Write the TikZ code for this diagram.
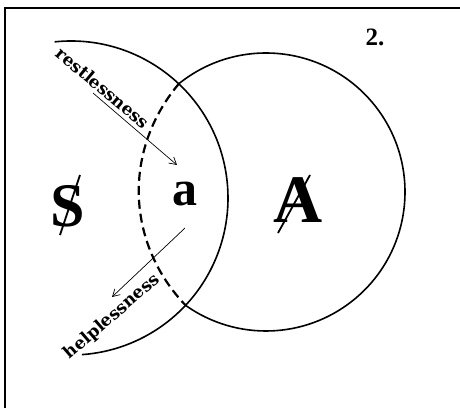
\documentclass[tikz,border=0pt]{standalone}
\usepackage{fontspec}
\setmainfont{DejaVu Serif}
\newfontfamily\symfont{Liberation Serif}
\usepackage{tikz}
\usetikzlibrary{arrows.meta, calc}

\begin{document}
\begin{tikzpicture}[x=1pt, y=1pt,
    outline/.style={line width=1.6pt},
    hidden/.style={line width=2.2pt, dash pattern=on 9pt off 5pt},
    pointer/.style={line width=0.7pt, -{Straight Barb[length=7pt, width=8pt]}},
    word/.style={font=\fontsize{17}{17}\selectfont\bfseries, inner sep=0pt},
    sym/.style={inner sep=0pt, font=\symfont\bfseries\fontsize{#1}{#1}\selectfont},
    strike/.style={line width=1.8pt}]
    \useasboundingbox (0,0) rectangle (460,408);
    % frame
    \draw[line width=2.6pt] (5,0) -- (5,400) -- (460,400);
    % centres of the two outlines and where they cross
    \coordinate (lc) at (71,210);
    \coordinate (rc) at (266,216);
    \coordinate (up) at ($(rc)+(128.7:139)$);
    \coordinate (down) at ($(rc)+(-125.3:139)$);
    % left arc
    \draw[outline] ($(lc)+(96:157)$) arc[start angle=96, end angle=-86, radius=157];
    % right circle, solid part and dashed part
    \draw[outline] (up) arc[start angle=128.7, end angle=-125.3, radius=139];
    \draw[hidden] (up) to[bend right=42] (down);
    % letters
    \node[sym=62] (subj) at (68,202) {S};
    \draw[strike] ($(subj)+(12,31)$) -- ($(subj)+(-8,-29)$);
    \node[sym=50] (obj) at (185,214) {a};
    \node[sym=68] (other) at (298,208) {A};
    \draw[strike] ($(other)+(12,25)$) -- ($(other)+(-20,-33)$);
    \node[sym=25] (num) at (375,371) {2.};
    % words and arrows
    \node[word, rotate=-40] (restless) at (103,320) {restlessness};
    \node[word, rotate=41] (helpless) at (112,91) {helplessness};
    \coordinate (r1) at (93,315);
    \coordinate (r2) at (177,243);
    \coordinate (h1) at (185,180);
    \coordinate (h2) at (112,111);
    \draw[pointer] (r1) -- (r2);
    \draw[pointer] (h1) -- (h2);
\end{tikzpicture}
\end{document}
